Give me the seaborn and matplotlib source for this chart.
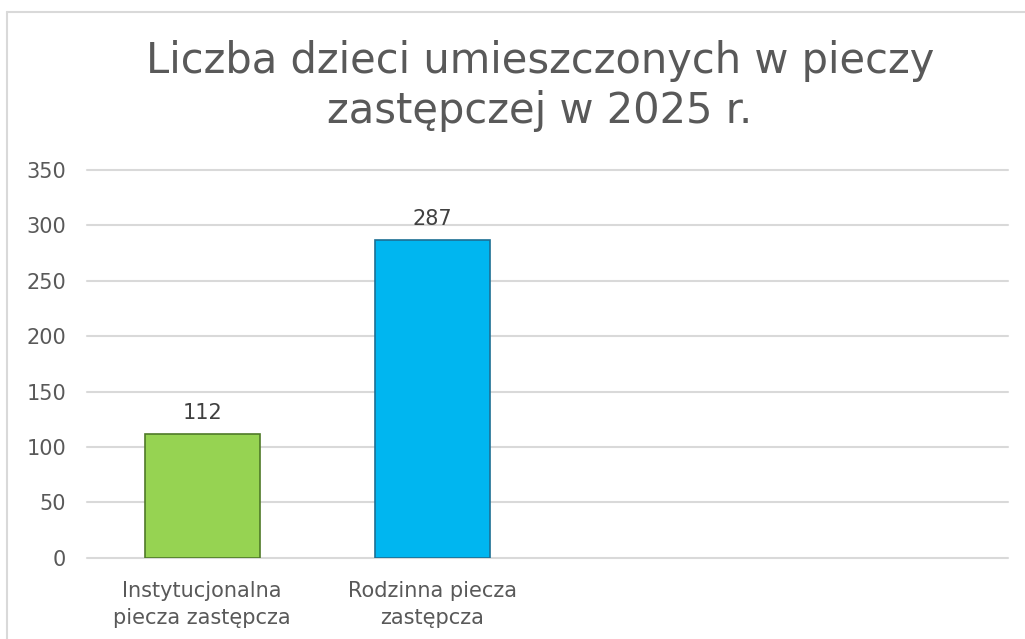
import matplotlib
matplotlib.use("Agg")
import matplotlib.pyplot as plt
import seaborn as sns
import pandas as pd
from matplotlib.lines import Line2D

# chart data
categories = ["Instytucjonalna\npiecza zastępcza", "Rodzinna piecza\nzastępcza", " ", "  "]
values = [112, 287, None, None]
bar_colors = ["#96D352", "#00B6F0", "#ffffff", "#ffffff"]
edge_colors = ["#4F7A28", "#1D6F94", "none", "none"]
y_ticks = [0, 50, 100, 150, 200, 250, 300, 350]
title = "Liczba dzieci umieszczonych w pieczy\nzastępczej w 2025 r."

sns.set_theme(style="white")
plt.rcParams["font.family"] = ["DejaVu Sans"]

df = pd.DataFrame({"kategoria": categories, "liczba": values})

fig = plt.figure(figsize=(10.25, 6.39), dpi=100)
ax = fig.add_axes([0.085, 0.127, 0.898, 0.607])

sns.barplot(data=df, x="kategoria", y="liczba", hue="kategoria",
            palette=bar_colors, saturation=1, legend=False, width=0.5, ax=ax)

for patch, ec in zip(ax.patches, edge_colors):
    patch.set_edgecolor(ec)
    patch.set_linewidth(1.2)
    patch.set_zorder(3)

ax.set_ylim(0, 350)
ax.set_yticks(y_ticks)
ax.set_xlim(-0.5, len(categories) - 0.5)
ax.grid(axis="y", color="#D9D9D9", linewidth=1.5, zorder=0)
ax.set_axisbelow(True)
for gl in ax.get_ygridlines():
    gl.set_clip_on(False)
for s in ax.spines.values():
    s.set_visible(False)

ax.set_xlabel("")
ax.set_ylabel("")
ax.tick_params(axis="y", length=0, labelsize=15, labelcolor="#595959", pad=15)
ax.tick_params(axis="x", length=0, labelsize=15, labelcolor="#595959", pad=17)
for lbl in ax.get_xticklabels():
    lbl.set_linespacing(1.4)

# value labels above bars
for i, v in enumerate(values):
    if v is not None:
        ax.annotate(str(v), (i, v), xytext=(0, 8), textcoords="offset points",
                    ha="center", va="bottom", fontsize=15, color="#404040")

fig.text(540 / 1025, 0.866, title, ha="center", va="center", fontsize=30,
         color="#595959", linespacing=1.25)

# outer chart frame
fig.add_artist(Line2D([7 / 1025, 7 / 1025], [0, 1 - 12 / 639], transform=fig.transFigure,
                      color="#D9D9D9", linewidth=1.5))
fig.add_artist(Line2D([7 / 1025, 1], [1 - 12 / 639, 1 - 12 / 639], transform=fig.transFigure,
                      color="#D9D9D9", linewidth=1.5))

fig.savefig("out.png", dpi=100, facecolor="white")
